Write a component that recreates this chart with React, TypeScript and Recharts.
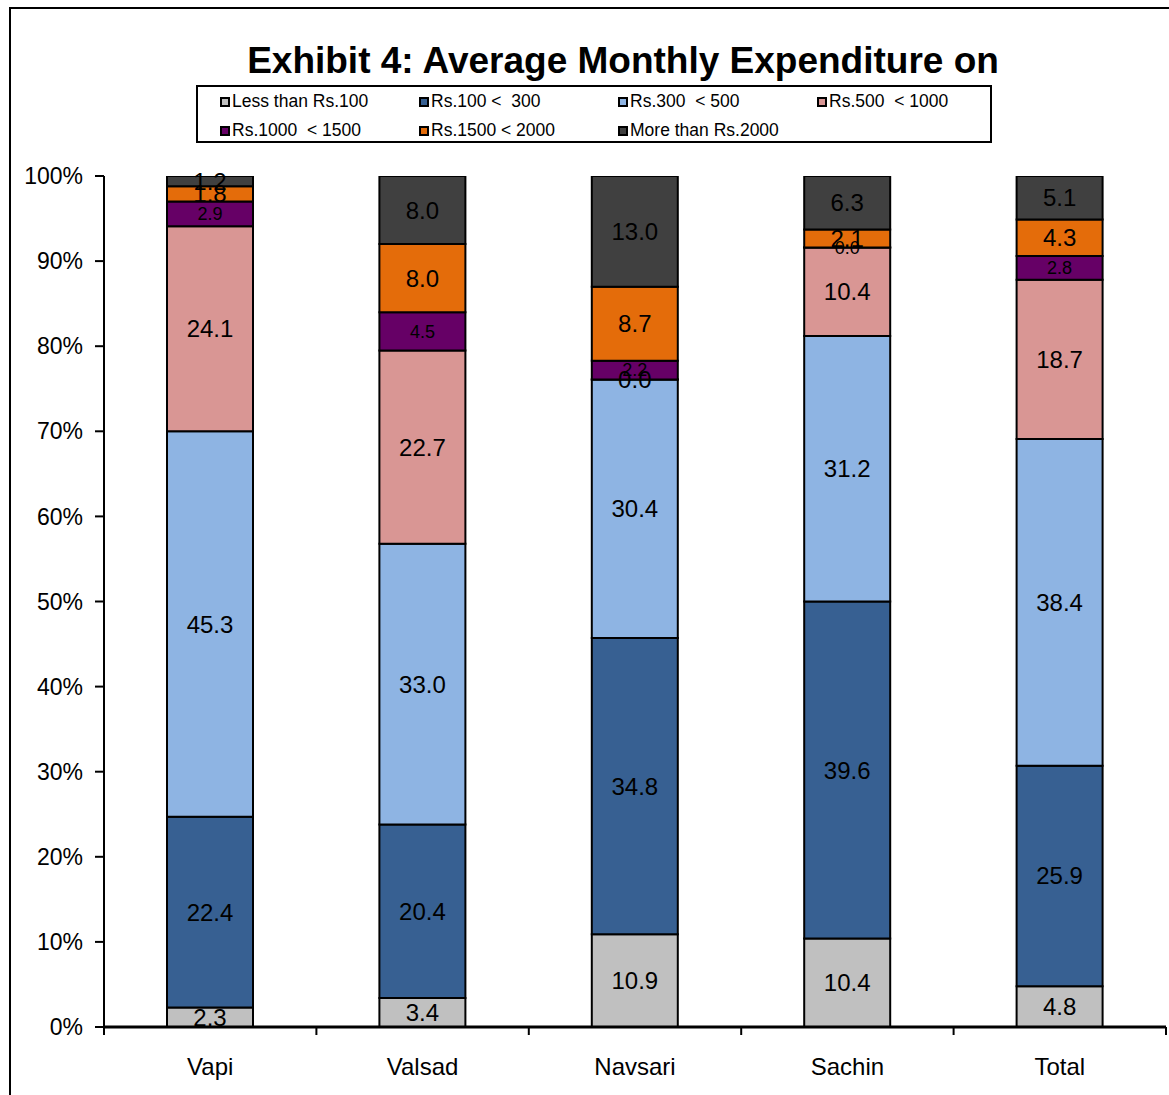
import React from "react";
import {
  BarChart,
  Bar,
  XAxis,
  YAxis,
  Legend,
  LabelList,
} from "recharts";

const CITIES = ["Vapi", "Valsad", "Navsari", "Sachin", "Total"];

const LESS_100 = [2.3, 3.4, 10.9, 10.4, 4.8];
const RS_100_300 = [22.4, 20.4, 34.8, 39.6, 25.9];
const RS_300_500 = [45.3, 33.0, 30.4, 31.2, 38.4];
const RS_500_1000 = [24.1, 22.7, 0.0, 10.4, 18.7];
const RS_1000_1500 = [2.9, 4.5, 2.2, 0.0, 2.8];
const RS_1500_2000 = [1.8, 8.0, 8.7, 2.1, 4.3];
const MORE_2000 = [1.2, 8.0, 13.0, 6.3, 5.1];

const Y_TICKS = [0, 10, 20, 30, 40, 50, 60, 70, 80, 90, 100];

const SERIES = [
  { key: "s1", name: "Less than Rs.100", values: LESS_100, color: "#C0C0C0", small: false },
  { key: "s2", name: "Rs.100 <  300", values: RS_100_300, color: "#376092", small: false },
  { key: "s3", name: "Rs.300  < 500", values: RS_300_500, color: "#8EB4E3", small: false },
  { key: "s4", name: "Rs.500  < 1000", values: RS_500_1000, color: "#D99694", small: false },
  { key: "s5", name: "Rs.1000  < 1500", values: RS_1000_1500, color: "#660066", small: true },
  { key: "s6", name: "Rs.1500 < 2000", values: RS_1500_2000, color: "#E46C0A", small: false },
  { key: "s7", name: "More than Rs.2000", values: MORE_2000, color: "#404040", small: false },
];

const data = CITIES.map((city, i) => {
  const row: Record<string, string | number> = { city };
  SERIES.forEach((s) => {
    row[s.key] = s.values[i];
  });
  return row;
});

const FONT = "'Liberation Sans', Arial, sans-serif";

// x axis ticks sit on the category borders, labels in the middle
const XTick = (props: any) => {
  const { x, y, payload, index } = props;
  const half = payload && payload.offset ? payload.offset : 106;
  return (
    <g>
      <line x1={x - half} y1={y} x2={x - half} y2={y + 8} stroke="#000" strokeWidth={2} />
      {index === CITIES.length - 1 && (
        <line x1={x + half} y1={y} x2={x + half} y2={y + 8} stroke="#000" strokeWidth={2} />
      )}
      <text x={x} y={y + 48} textAnchor="middle" fontSize={24} fontFamily={FONT} fill="#000">
        {payload.value}
      </text>
    </g>
  );
};

const renderLegend = (props: any) => {
  const order = SERIES.map((s) => s.name);
  const payload = [...(props.payload || [])].sort(
    (a: any, b: any) => order.indexOf(a.value) - order.indexOf(b.value)
  );
  return (
    <div
      style={{
        display: "grid",
        gridTemplateColumns: "199px 199px 199px 175px",
        rowGap: 8,
        padding: "4px 0 0 22px",
        fontFamily: FONT,
        fontSize: 17.5,
        lineHeight: "21px",
        color: "#000",
      }}
    >
      {payload.map((p: any) => (
        <div key={p.value} style={{ display: "flex", alignItems: "center", whiteSpace: "pre" }}>
          <span
            style={{
              display: "inline-block",
              width: 6,
              height: 6,
              border: "2px solid #000",
              background: p.color,
              marginRight: 2,
            }}
          />
          {p.value}
        </div>
      ))}
    </div>
  );
};

export default function App() {
  return (
    <div
      style={{
        position: "fixed",
        left: 0,
        top: 0,
        width: 1169,
        height: 1095,
        overflow: "hidden",
        background: "#fff",
        fontFamily: FONT,
      }}
    >
      <div
        style={{
          position: "absolute",
          left: 9,
          top: 7,
          width: 1300,
          height: 1300,
          border: "2px solid #000",
        }}
      />
      <div
        style={{
          position: "absolute",
          left: 0,
          width: 1246,
          top: 40,
          textAlign: "center",
          fontSize: 37,
          lineHeight: "42px",
          fontWeight: "bold",
        }}
      >
        Exhibit 4: Average Monthly Expenditure on
      </div>
      <div style={{ position: "absolute", left: 0, top: 0 }}>
        <BarChart
          width={1169}
          height={1095}
          data={data}
          margin={{ top: 176, right: 3, left: 10, bottom: 8 }}
        >
          <XAxis
            dataKey="city"
            height={60}
            axisLine={{ stroke: "#000", strokeWidth: 3 }}
            tickLine={false}
            tickSize={0}
            tickMargin={0}
            tick={<XTick />}
            interval={0}
          />
          <YAxis
            width={94}
            domain={[0, 100]}
            ticks={Y_TICKS}
            tickFormatter={(v) => `${v}%`}
            axisLine={{ stroke: "#000", strokeWidth: 2 }}
            tickLine={{ stroke: "#000", strokeWidth: 2 }}
            tickSize={9}
            tickMargin={12}
            tick={{ fontSize: 23, fill: "#000", fontFamily: FONT }}
            allowDataOverflow
          />
          <Legend
            layout="horizontal"
            verticalAlign="middle"
            align="center"
            content={renderLegend}
            wrapperStyle={{
              position: "absolute",
              left: 196,
              top: 85,
              width: 796,
              height: 58,
              border: "2px solid #000",
              background: "#fff",
              boxSizing: "border-box",
            }}
          />
          {SERIES.map((s) => (
            <Bar
              key={s.key}
              dataKey={s.key}
              name={s.name}
              stackId="a"
              fill={s.color}
              stroke="#000"
              strokeWidth={2}
              barSize={86}
              minPointSize={0.01}
              isAnimationActive={false}
            >
              <LabelList
                dataKey={s.key}
                position="center"
                formatter={(v: any) => Number(v).toFixed(1)}
                fill="#000"
                fontSize={s.small ? 18 : 24}
                fontFamily={FONT}
              />
            </Bar>
          ))}
        </BarChart>
      </div>
    </div>
  );
}
